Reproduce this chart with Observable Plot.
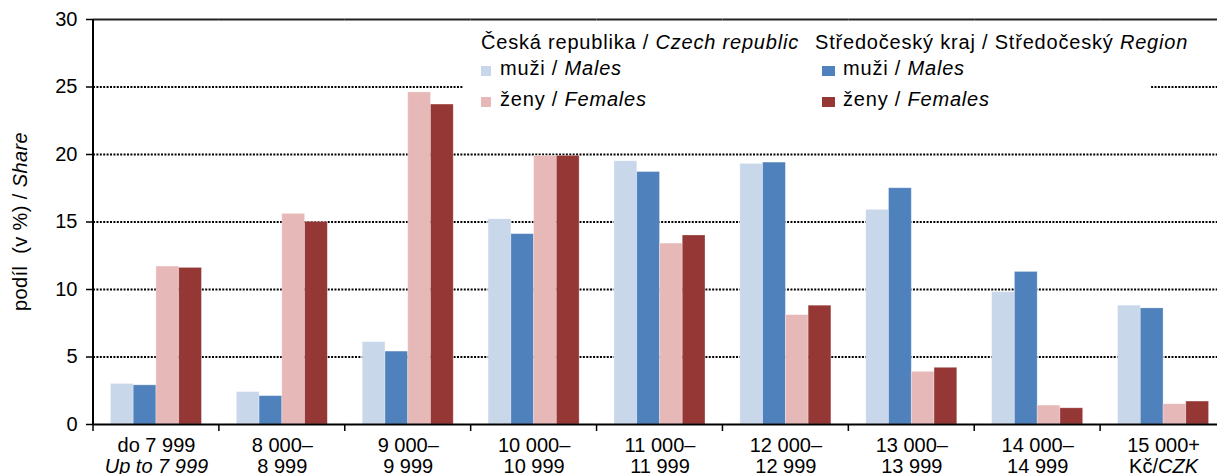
<!DOCTYPE html>
<html><head><meta charset="utf-8">
<script src="https://cdn.jsdelivr.net/npm/d3@7"></script>
<script src="https://cdn.jsdelivr.net/npm/@observablehq/plot@0.6"></script>
<style>html,body{margin:0;padding:0;overflow:hidden;background:#fff;}</style>
</head><body><div id="chart"></div>
<script>
const categories = ["do 7 999","8 000–","9 000–","10 000–","11 000–","12 000–","13 000–","14 000–","15 000+"];
const categoryLine2 = ["Up to 7 999","8 999","9 999","10 999","11 999","12 999","13 999","14 999","Kč/CZK"];
const seriesKeys = ["cz-m","sc-m","cz-f","sc-f"];
const czMales   = [3.0, 2.4, 6.1, 15.2, 19.5, 19.3, 15.9, 9.8, 8.8];
const scMales   = [2.9, 2.1, 5.4, 14.1, 18.7, 19.4, 17.5, 11.3, 8.6];
const czFemales = [11.7, 15.6, 24.6, 19.9, 13.4, 8.1, 3.9, 1.4, 1.5];
const scFemales = [11.6, 15.0, 23.7, 19.9, 14.0, 8.8, 4.2, 1.2, 1.7];
const yTicks = [0, 5, 10, 15, 20, 25, 30];
const gridTicks = [5, 10, 15, 20, 25];
const seriesColors = ["#c8d7ea", "#4f81bd", "#e6b8b7", "#953735"];
const legendTitles = [["Česká republika / ", "Czech republic"], ["Středočeský kraj / Středočeský ", "Region"]];
const legendItems = [["muži / ", "Males"], ["ženy / ", "Females"]];
const yLabel = ["podíl  (v %) / ", "Share"];

const seriesValues = [czMales, scMales, czFemales, scFemales];
const rows = [];
categories.forEach((c, i) => seriesKeys.forEach((s, j) => rows.push({cat: c, series: s, value: seriesValues[j][i]})));

const font = "'Liberation Sans', Arial, Helvetica, sans-serif";
const plot = Plot.plot({
  width: 1217, height: 474,
  marginLeft: 93, marginRight: -9, marginTop: 19, marginBottom: 50,
  style: {fontFamily: font, fontSize: "20px", color: "#000", background: "#fff"},
  fx: {domain: categories, padding: 0, round: false, label: null},
  x: {domain: seriesKeys, paddingInner: 0, paddingOuter: 0.767, round: false, axis: null},
  y: {domain: [0, 30]},
  color: {domain: seriesKeys, range: seriesColors},
  marks: [
    Plot.ruleY(gridTicks, {stroke: "#000", strokeWidth: 1.8, strokeDasharray: "2,1.4"}),
    Plot.ruleY([30], {stroke: "#222", strokeWidth: 1.8}),
    Plot.barY(rows, {fx: "cat", x: "series", y: "value", fill: "series", stroke: "#fff", strokeOpacity: 0.35, strokeWidth: 0.8}),
    Plot.ruleY([0], {stroke: "#000", strokeWidth: 2}),
    Plot.axisY({ticks: yTicks, tickSize: 7, tickPadding: 9, label: null, strokeWidth: 1.5, fontSize: 20}),
    Plot.axisFx({anchor: "bottom", tickSize: 0, tickPadding: 12, label: null, lineHeight: 1.08, fontSize: 20,
      tickFormat: c => c + "\n" + categoryLine2[categories.indexOf(c)]})
  ]
});
document.getElementById("chart").appendChild(plot);

const svg = d3.select(plot);
const fx = plot.scale("fx"), y = plot.scale("y"), color = plot.scale("color");
const y0 = y.apply(0), y30 = y.apply(30);
const left = fx.apply(categories[0]);

// left axis line
svg.append("line").attr("x1", left).attr("x2", left).attr("y1", y30).attr("y2", y0 + 1)
  .attr("stroke", "#000").attr("stroke-width", 2);
// category boundary ticks
const bounds = categories.map(c => fx.apply(c)).concat([fx.apply(categories[categories.length - 1]) + fx.bandwidth]);
bounds.forEach(bx => svg.append("line").attr("x1", bx).attr("x2", bx).attr("y1", y0).attr("y2", y0 + 7)
  .attr("stroke", "#000").attr("stroke-width", 1.5));

// italic parts of category labels
svg.selectAll("tspan").each(function() {
  const t = this.textContent;
  if (t === categoryLine2[0]) this.setAttribute("font-style", "italic");
  if (t === categoryLine2[categoryLine2.length - 1]) {
    const parts = t.split("/");
    this.textContent = parts[0] + "/";
    const sub = document.createElementNS("http://www.w3.org/2000/svg", "tspan");
    sub.setAttribute("font-style", "italic");
    sub.textContent = parts[1];
    this.appendChild(sub);
  }
});

// y label
const yl = svg.append("text").attr("transform", `translate(27,${(y0 + y30) / 2}) rotate(-90)`)
  .attr("text-anchor", "middle").attr("font-size", 20).attr("fill", "#000")
  .style("white-space", "pre").style("letter-spacing", "0.4px");
yl.append("tspan").text(yLabel[0]);
yl.append("tspan").attr("font-style", "italic").text(yLabel[1]);

// legend
const lg = svg.append("g").attr("font-size", 20).attr("fill", "#000").attr("text-anchor", "start")
  .style("letter-spacing", "0.8px");
lg.append("rect").attr("x", 463).attr("y", 24).attr("width", 687).attr("height", 94).attr("fill", "#fff");
const cols = [{tx: 481, sx: 481, sw: 10, ix: 500}, {tx: 815, sx: 822, sw: 13, ix: 843}];
cols.forEach((col, ci) => {
  const t = lg.append("text").attr("x", col.tx).attr("y", 49).style("white-space", "pre");
  t.append("tspan").text(legendTitles[ci][0]);
  t.append("tspan").attr("font-style", "italic").text(legendTitles[ci][1]);
  legendItems.forEach((it, ii) => {
    const key = seriesKeys[ii * 2 + ci];
    const by = 75 + ii * 31;
    lg.append("rect").attr("x", col.sx).attr("y", by - 9).attr("width", col.sw).attr("height", 10)
      .attr("fill", color.apply(key));
    const tt = lg.append("text").attr("x", col.ix).attr("y", by).style("white-space", "pre");
    tt.append("tspan").text(it[0]);
    tt.append("tspan").attr("font-style", "italic").text(it[1]);
  });
});
</script></body></html>
